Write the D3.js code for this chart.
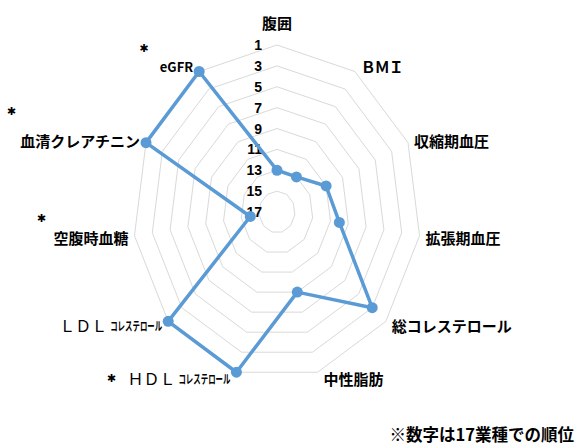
<!DOCTYPE html>
<html>
<head>
<meta charset="utf-8">
<script src="https://cdn.jsdelivr.net/npm/d3@7"></script>
<style>
  body { margin: 0; background: #fff; }
  text { font-family: "Noto Sans CJK JP", "Noto Sans", sans-serif; fill: #000; }
</style>
</head>
<body>
<div id="chart"></div>
<script>
var width = 577;
var height = 447;

// axes, clockwise from the top
var axisNames = ["腹囲", "ＢＭＩ", "収縮期血圧", "拡張期血圧", "総コレステロール", "中性脂肪",
                 "ＨＤＬ", "ＬＤＬ", "空腹時血糖", "血清クレアチニン", "eGFR"];
// small suffix printed after some axis names
var axisSuffix = ["", "", "", "", "", "", "コレステロール", "コレステロール", "", "", ""];
// rank among 17 industries
var ranks = [13, 13, 11, 10, 3, 9, 1, 1, 14, 1, 1];
// axes marked with an asterisk
var starred = ["eGFR", "血清クレアチニン", "空腹時血糖", "ＨＤＬ"];
var tickValues = [1, 3, 5, 7, 9, 11, 13, 15, 17];
var gridValues = [1, 3, 5, 7, 9, 11, 13, 15];
var note = "※数字は17業種での順位";

////////////////////////////////////////////////////////////////////////////////

var cx = 277, cy = 212;
var rx = d3.scaleLinear().domain([17, 1]).range([0, 144]);
var ry = d3.scaleLinear().domain([17, 1]).range([0, 167]);
var angle = d3.scaleLinear().domain([0, axisNames.length]).range([0, 2 * Math.PI]);

function px(i, v) { return cx + rx(v) * Math.sin(angle(i)); }
function py(i, v) { return cy - ry(v) * Math.cos(angle(i)); }

var svg = d3.select("#chart").append("svg")
    .attr("width", width)
    .attr("height", height);

// grid rings
var ring = d3.line()
    .x(function(d) { return px(d.i, d.v); })
    .y(function(d) { return py(d.i, d.v); })
    .curve(d3.curveLinearClosed);

svg.append("g").selectAll("path")
    .data(gridValues)
    .enter().append("path")
    .attr("d", function(v) { return ring(axisNames.map(function(n, i) { return {i: i, v: v}; })); })
    .attr("fill", "none")
    .attr("stroke", "#d9d9d9")
    .attr("stroke-width", 1);

// tick labels along the top axis
svg.append("g").selectAll("text")
    .data(tickValues)
    .enter().append("text")
    .attr("x", cx - 15)
    .attr("y", function(v) { return py(0, v); })
    .attr("text-anchor", "end")
    .attr("dominant-baseline", "central")
    .style("font-family", "'Liberation Sans', sans-serif")
    .style("font-weight", "bold")
    .style("font-size", "14px")
    .text(function(v) { return v; });

// series
var points = ranks.map(function(v, i) { return {i: i, v: v}; });

svg.append("path")
    .attr("d", ring(points))
    .attr("fill", "none")
    .attr("stroke", "#5b9bd5")
    .attr("stroke-width", 3.5)
    .attr("stroke-linejoin", "round");

svg.append("g").selectAll("circle")
    .data(points)
    .enter().append("circle")
    .attr("cx", function(d) { return px(d.i, d.v); })
    .attr("cy", function(d) { return py(d.i, d.v); })
    .attr("r", 5.5)
    .attr("fill", "#5b9bd5");

// axis labels
var labels = svg.append("g").selectAll("text")
    .data(axisNames)
    .enter().append("text")
    .attr("x", function(d, i) {
        var s = Math.sin(angle(i));
        return px(i, 1) + (Math.abs(s) < 0.1 ? 0 : (s > 0 ? 6 : -6));
    })
    .attr("y", function(d, i) {
        var c = Math.cos(angle(i));
        if (c > 0.99) return py(i, 1) - 23;
        return py(i, 1) - c * 6;
    })
    .attr("text-anchor", function(d, i) {
        var s = Math.sin(angle(i));
        return Math.abs(s) < 0.1 ? "middle" : (s > 0 ? "start" : "end");
    })
    .attr("dominant-baseline", "central")
    .style("font-size", function(d) { return d == "eGFR" ? "13px" : "15px"; })
    .style("font-weight", "bold")
    .style("letter-spacing", function(d) { return d == "ＢＭＩ" ? "-1px" : null; });

labels.append("tspan")
    .style("font-weight", function(d) { return (d == "ＨＤＬ" || d == "ＬＤＬ") ? "normal" : null; })
    .style("font-size", function(d) { return (d == "ＨＤＬ" || d == "ＬＤＬ") ? "16px" : null; })
    .text(function(d) { return d; });

labels.filter(function(d, i) { return axisSuffix[i] != ""; })
    .append("tspan")
    .attr("dx", 3)
    .attr("textLength", 52)
    .attr("lengthAdjust", "spacingAndGlyphs")
    .style("font-size", "12px")
    .style("font-weight", "bold")
    .text(function(d) { return axisSuffix[axisNames.indexOf(d)]; });

// asterisks
var starOffset = { "eGFR": [-16, -18], "血清クレアチニン": [-9, -29], "空腹時血糖": [-12, -18], "ＨＤＬ": [-16, 1] };
labels.each(function(d) {
    if (starred.indexOf(d) < 0) return;
    var b = this.getBBox();
    svg.append("text")
        .attr("x", b.x + starOffset[d][0])
        .attr("y", b.y + b.height / 2 + starOffset[d][1])
        .attr("text-anchor", "middle")
        .attr("dominant-baseline", "central")
        .style("font-family", "'DejaVu Sans', sans-serif")
        .style("font-size", "11px")
        .text("✱");
});

// footnote
svg.append("text")
    .attr("x", 574)
    .attr("y", 434)
    .attr("text-anchor", "end")
    .attr("dominant-baseline", "central")
    .style("font-size", "16.5px")
    .style("font-weight", "bold")
    .text(note);
</script>
</body>
</html>
